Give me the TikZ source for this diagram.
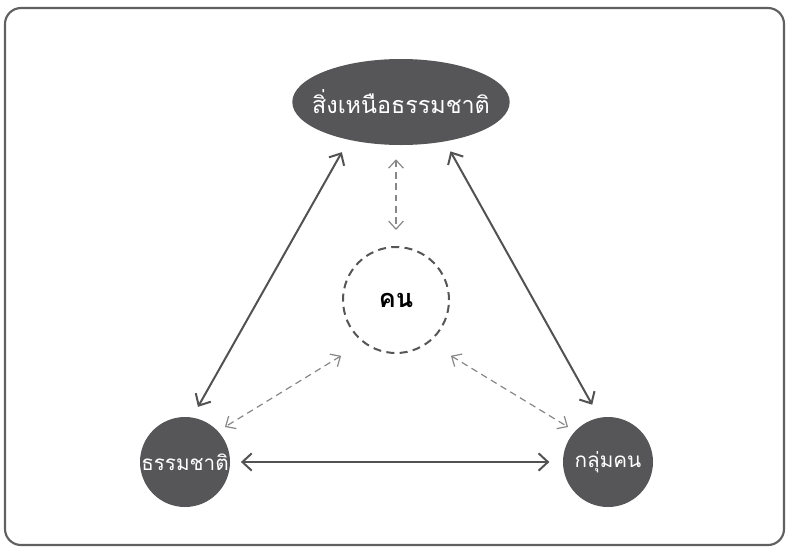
\documentclass[tikz,border=0pt]{standalone}
\usepackage{fontspec}
\newfontfamily\thaifont[Script=Thai]{Loma}
\usetikzlibrary{arrows.meta, positioning, shapes.geometric}
\definecolor{spdark}{RGB}{86,86,88}
\definecolor{sparrow}{RGB}{82,82,82}
\definecolor{spdash}{RGB}{135,135,135}
\definecolor{spframe}{RGB}{96,96,96}
\tikzset{
  realm/.style={circle, fill=spdark, text=white, minimum size=#1, inner sep=0pt,
                font=\thaifont\fontsize{15.5}{18}\selectfont},
  realm/.default=67.5pt,
  selfnode/.style={circle, draw=spdark, dash pattern=on 6pt off 4pt, line width=1.5pt,
                   minimum size=79.5pt, inner sep=0pt, font=\thaifont\bfseries\fontsize{19}{22}\selectfont},
  link/.style={{Straight Barb[length=7pt,width=13pt]}-{Straight Barb[length=7pt,width=13pt]},
               line width=1.5pt, draw=sparrow},
  dlink/.style={{Straight Barb[length=6pt,width=11pt]}-{Straight Barb[length=6pt,width=11pt]},
                line width=0.9pt, draw=spdash, dash pattern=on 5pt off 3.5pt},
}
\begin{document}
\begin{tikzpicture}[x=0.75pt, y=-0.75pt]
  \useasboundingbox (0,0) rectangle (789,547);
  % frame
  \draw[spframe, line width=1.6pt, rounded corners=12pt] (5,8) rectangle (784,545);

  % realms
  \node[realm, ellipse, minimum width=159pt, minimum height=64.5pt, inner xsep=-9pt,
        font=\thaifont\fontsize{17.5}{20}\selectfont] (supnat) at (401,102)
       {สิ่งเหนือธรรมชาติ};
  \node[realm] (nature) at (185,462) {ธรรมชาติ};
  \node[realm] (people) at (608,462) {กลุ่มคน};
  \node[selfnode] (self) at (396,300) {คน};

  % solid links
  \draw[link, shorten <=10.5pt, shorten >=9pt] (supnat.216) -- (nature.81);
  \draw[link, shorten <=8.4pt, shorten >=11pt] (supnat.318) -- (people.101);
  \draw[link, shorten <=8pt, shorten >=10pt] (nature.east) -- (people.west);

  % dashed links
  \draw[dlink, shorten <=10.5pt, shorten >=12pt] (self.north |- supnat.south) -- (self.north);
  \draw[dlink, shorten <=19pt, shorten >=6pt] (self.232) -- (nature.43);
  \draw[dlink, shorten <=19pt, shorten >=6pt] (self.308) -- (people.137);
\end{tikzpicture}
\end{document}
